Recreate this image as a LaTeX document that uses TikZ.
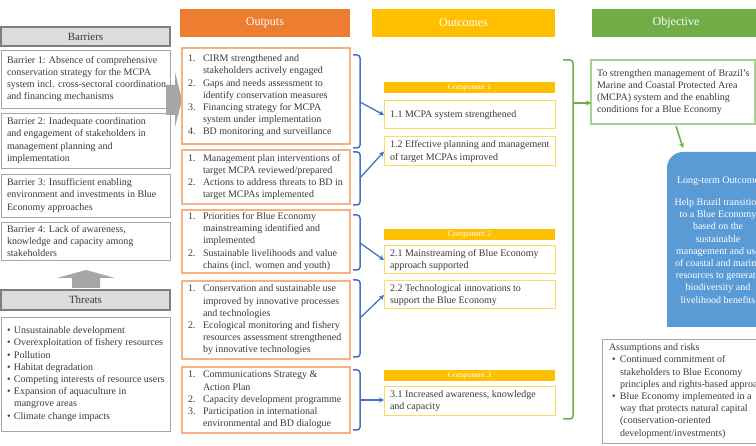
\documentclass[tikz,border=0pt]{standalone}
\usepackage{fontspec}
\setmainfont{Liberation Serif}
\usetikzlibrary{arrows.meta}
\definecolor{txt}{HTML}{3B3B3B}
\definecolor{grayline}{HTML}{A6A6A6}
\definecolor{grayedge}{HTML}{7F7F7F}
\definecolor{grayfill}{HTML}{DCDCDC}
\definecolor{arrowgray}{HTML}{A6A6A6}
\definecolor{orangehead}{HTML}{ED7D31}
\definecolor{orangeline}{HTML}{F4B183}
\definecolor{gold}{HTML}{FFC000}
\definecolor{goldline}{HTML}{FFD966}
\definecolor{bluebr}{HTML}{4472C4}
\definecolor{greenhead}{HTML}{70AD47}
\definecolor{greenline}{HTML}{A9D18E}
\definecolor{ltblue}{HTML}{5B9BD5}
\newcommand\tb[7]{%
  \node[#1, minimum width=#5pt, minimum height=#6pt] (#2) at (#3,#4) {};
  \node[body] (#2t) at ([xshift=6pt]#2.west) {#7};}
\newcommand\nm[1]{\makebox[15pt][l]{#1}}
\newcommand\ind{\hspace*{15pt}}
\newcommand\bl{\makebox[7pt][l]{•}}
\newcommand\bi{\hspace*{7pt}}
\newcommand\abl{\hspace*{3pt}\makebox[8pt][l]{•}}
\newcommand\abi{\hspace*{11pt}}
\begin{document}
\begin{tikzpicture}[x=1pt,y=-1pt,
  every node/.style={inner sep=0pt, outer sep=0pt},
  body/.style={font=\fontsize{10}{12.2}\selectfont, text=txt, align=left, anchor=west},
  graybox/.style={draw=grayline, line width=0.9pt, fill=white, anchor=north west},
  grayhead/.style={draw=grayedge, line width=1.4pt, fill=grayfill, anchor=north west,
    font=\fontsize{11}{13}\selectfont, text=txt},
  outbox/.style={draw=orangeline, line width=1.1pt, fill=white, anchor=north west},
  ocbox/.style={draw=goldline, line width=1pt, fill=white, anchor=north west},
  objbox/.style={draw=greenline, line width=1.1pt, fill=white, anchor=north west},
  colhead/.style={anchor=north west, font=\fontsize{12}{14}\selectfont, text=white},
  comphead/.style={fill=gold, anchor=north west, font=\fontsize{8}{9}\selectfont, text=white},
  brk/.style={draw=bluebr, line width=1.5pt, rounded corners=3pt},
  barrow/.style={draw=bluebr, line width=1.3pt, -{Stealth[length=5pt,width=5pt]}},
  gbrk/.style={draw=greenhead, line width=1.5pt, rounded corners=3pt},
  garrow/.style={draw=greenhead, line width=1.5pt, -{Stealth[length=5pt,width=5pt]}},
  blockarrow/.style={fill=arrowgray, draw=none}]
\useasboundingbox (0,0) rectangle (756,446);
\clip (0,0) rectangle (756,446);
\fill[white] (0,0) rectangle (756,446);

% ---------- Barriers / Threats column
\node[grayhead, minimum width=169pt, minimum height=19pt] (barhead) at (1,27) {Barriers};
\tb{graybox}{bar1}{1}{50}{169}{58}{Barrier 1: Absence of comprehensive\\conservation strategy for the MCPA\\system incl. cross-sectoral coordination\\and financing mechanisms}
\tb{graybox}{bar2}{1}{113}{169}{55}{Barrier 2: Inadequate coordination\\and engagement of stakeholders in\\management planning and\\implementation}
\tb{graybox}{bar3}{1}{174}{169}{43}{Barrier 3: Insufficient enabling\\environment and investments in Blue\\Economy approaches}
\tb{graybox}{bar4}{1}{222}{169}{38}{Barrier 4: Lack of awareness,\\knowledge and capacity among\\stakeholders}
\node[grayhead, minimum width=169pt, minimum height=20pt] (thrhead) at (1,290) {Threats};
\tb{graybox}{thr}{1}{317}{169}{114}{\bl Unsustainable development\\\bl Overexploitation of fishery resources\\\bl Pollution\\\bl Habitat degradation\\\bl Competing interests of resource users\\\bl Expansion of aquaculture in\\\bi mangrove areas\\\bl Climate change impacts}

% block arrows
\fill[blockarrow] (72,288) -- (72,278) -- (57,278) -- (86,270) -- (115,278) -- (100,278) -- (100,288) -- cycle;
\fill[blockarrow] (166,85) -- (175,85) -- (175,72) -- (182,100) -- (175,127) -- (175,115) -- (166,115) -- cycle;

% ---------- Outputs column
\node[colhead, fill=orangehead, minimum width=170pt, minimum height=28pt] (outhead) at (180,9) {Outputs};
\tb{outbox}{out1}{182}{48}{168}{96}{\nm{1.}CIRM strengthened and\\\ind stakeholders actively engaged\\\nm{2.}Gaps and needs assessment to\\\ind identify conservation measures\\\nm{3.}Financing strategy for MCPA\\\ind system under implementation\\\nm{4.}BD monitoring and surveillance}
\tb{outbox}{out2}{182}{150}{168}{54}{\nm{1.}Management plan interventions of\\\ind target MCPA reviewed/prepared\\\nm{2.}Actions to address threats to BD in\\\ind target MCPAs implemented}
\tb{outbox}{out3}{182}{210}{168}{63}{\nm{1.}Priorities for Blue Economy\\\ind mainstreaming identified and\\\ind implemented\\\nm{2.}Sustainable livelihoods and value\\\ind chains (incl. women and youth)}
\tb{outbox}{out4}{182}{281}{168}{78}{\nm{1.}Conservation and sustainable use\\\ind improved by innovative processes\\\ind and technologies\\\nm{2.}Ecological monitoring and fishery\\\ind resources assessment strengthened\\\ind by innovative technologies}
\tb{outbox}{out5}{182}{367}{168}{66}{\nm{1.}Communications Strategy \&\\\ind Action Plan\\\nm{2.}Capacity development programme\\\nm{3.}Participation in international\\\ind environmental and BD dialogue}

% ---------- Outcomes column
\node[colhead, fill=gold, minimum width=183pt, minimum height=28pt] (ochead) at (372,9) {Outcomes};
\node[comphead, minimum width=171pt, minimum height=11pt] (comp1) at (384,82) {Component 1};
\tb{ocbox}{oc11}{384}{101}{171}{28}{1.1 MCPA system strengthened}
\tb{ocbox}{oc12}{384}{137}{171}{29}{1.2 Effective planning and management\\of target MCPAs improved}
\node[comphead, minimum width=171pt, minimum height=11pt] (comp2) at (384,229) {Component 2};
\tb{ocbox}{oc21}{384}{246}{171}{28}{2.1 Mainstreaming of Blue Economy\\approach supported}
\tb{ocbox}{oc22}{384}{281}{171}{28}{2.2 Technological innovations to\\support the Blue Economy}
\node[comphead, minimum width=171pt, minimum height=11pt] (comp3) at (384,370) {Component 3};
\tb{ocbox}{oc31}{384}{387}{171}{29}{3.1 Increased awareness, knowledge\\and capacity}

% blue brackets
\coordinate (b1) at (360,102);
\coordinate (b2) at (360,178);
\coordinate (b3) at (360,243);
\coordinate (b4) at (360,318);
\coordinate (b5) at (360,400);
\draw[brk] (353,55) -- (360,55) -- (360,148) -- (353,148);
\draw[brk] (353,152) -- (360,152) -- (360,205) -- (353,205);
\draw[brk] (353,215) -- (360,215) -- (360,270) -- (353,270);
\draw[brk] (353,280) -- (360,280) -- (360,357) -- (353,357);
\draw[brk] (353,370) -- (360,370) -- (360,430) -- (353,430);
\draw[barrow] (b1) -- (oc11.west);
\draw[barrow] (b2) -- (oc12.west);
\draw[barrow] (b3) -- (oc21.west);
\draw[barrow] (b4) -- (oc22.west);
\draw[barrow] (b5) -- (b5 -| oc31.west);

% ---------- Objective column
\node[colhead, fill=greenhead, minimum width=168pt, minimum height=28pt] (objhead) at (592,9) {Objective};
\tb{objbox}{obj}{591}{60}{164}{64}{To strengthen management of Brazil's\\Marine and Coastal Protected Area\\(MCPA) system and the enabling\\conditions for a Blue Economy}
\coordinate (gm) at (573,103);
\draw[gbrk] (563,60) -- (573,60) -- (573,419) -- (563,419);
\draw[garrow] (gm) -- (gm -| obj.west);

\node[anchor=north west, minimum width=102pt, minimum height=175pt] (lt) at (667,152) {};
\fill[ltblue] (lt.north east) -- (lt.south east) -- (lt.south west) -- ([yshift=-16pt]lt.north west) arc[start angle=180, end angle=90, radius=16pt] -- cycle;
\node[font=\fontsize{10}{12.2}\selectfont, text=white, align=center] (ltt) at (718,240) {Long-term Outcome\\[10pt]Help Brazil transition\\to a Blue Economy\\based on the\\sustainable\\management and use\\of coastal and marine\\resources to generate\\biodiversity and\\livelihood benefits};
\draw[garrow] ([xshift=3pt,yshift=-2pt]obj.south) -- ([xshift=16pt,yshift=4pt]lt.north west);

\node[graybox, minimum width=168pt, minimum height=104pt] (asm) at (602,339) {};
\node[body] (asmt) at ([xshift=7pt]asm.west) {Assumptions and risks\\\abl Continued commitment of\\\abi stakeholders to Blue Economy\\\abi principles and rights-based approach\\\abl Blue Economy implemented in a\\\abi way that protects natural capital\\\abi (conservation-oriented\\\abi development/investments)};
\end{tikzpicture}
\end{document}
